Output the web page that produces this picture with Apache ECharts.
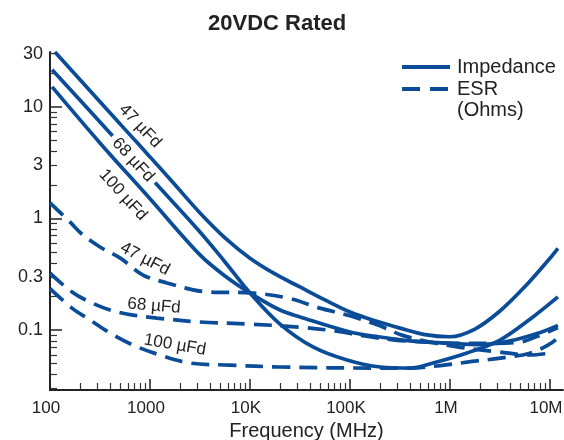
<!DOCTYPE html>
<html>
<head>
<meta charset="utf-8">
<script src="https://cdn.jsdelivr.net/npm/echarts@6/dist/echarts.min.js"></script>
<style>
html,body{margin:0;padding:0;background:#fff;}
#chart{width:564px;height:440px;}
</style>
</head>
<body>
<div id="chart"></div>
<script>
// ---- data (frequency in Hz, values in ohms) ----
var z47Freq = [112, 316, 562, 1000, 1778, 3162, 5623, 10000, 17780, 31620, 56230, 100000, 177800, 316200, 562300, 1000000, 1778000, 3162000, 5623000, 10000000, 12000000];
var z47Val  = [31, 11.1, 6.28, 3.56, 2.0, 1.12, 0.67, 0.44, 0.318, 0.243, 0.186, 0.145, 0.121, 0.104, 0.091, 0.087, 0.102, 0.148, 0.245, 0.44, 0.54];

var z68Freq = [105, 316, 1000, 3162, 5623, 10000, 19950, 42660, 93300, 200000, 398000, 676000, 1479000, 3160000, 6760000, 12000000];
var z68Val  = [21.5, 7.33, 2.35, 0.757, 0.407, 0.215, 0.113, 0.0705, 0.0538, 0.0466, 0.0456, 0.0506, 0.0622, 0.0813, 0.131, 0.198];

var z100Freq = [105, 316, 1000, 3162, 5623, 10000, 19950, 31620, 100000, 200000, 398000, 1000000, 2000000, 4000000, 8000000, 12000000];
var z100Val  = [15.1, 4.75, 1.50, 0.471, 0.305, 0.215, 0.151, 0.131, 0.096, 0.0865, 0.080, 0.076, 0.074, 0.080, 0.095, 0.11];

var esr47Freq = [100, 158, 214, 316, 501, 851, 1479, 2692, 3981, 10000, 23440, 50120, 100000, 199500, 331000, 631000, 1260000, 3160000, 6310000, 10000000];
var esr47Val  = [1.38, 0.93, 0.71, 0.555, 0.443, 0.311, 0.264, 0.229, 0.219, 0.215, 0.194, 0.157, 0.134, 0.109, 0.090, 0.078, 0.070, 0.0635, 0.0597, 0.062];

var esr68Freq = [100, 166, 251, 398, 676, 1175, 3162, 10000, 31620, 70800, 141000, 282000, 600000, 1200000, 2500000, 5000000, 8000000, 12000000];
var esr68Val  = [0.324, 0.219, 0.178, 0.151, 0.136, 0.128, 0.118, 0.113, 0.106, 0.098, 0.0883, 0.0813, 0.078, 0.076, 0.076, 0.078, 0.09, 0.105];

var esr100Freq = [100, 166, 251, 398, 676, 1259, 2512, 6310, 19950, 200000, 398000, 800000, 1600000, 3200000, 6300000, 10000000, 12000000];
var esr100Val  = [0.235, 0.157, 0.123, 0.094, 0.0733, 0.0597, 0.0506, 0.0485, 0.0466, 0.0456, 0.0456, 0.048, 0.052, 0.056, 0.062, 0.075, 0.085];

// ---- axis ticks / labels ----
var xTickValues = [100, 1000, 10000, 100000, 1000000, 10000000];
var xTickLabels = ['100', '1000', '10K', '100K', '1M', '10M'];
var yTickValues = [0.1, 0.3, 1, 3, 10, 30];
var yTickLabels = ['0.1', '0.3', '1', '3', '10', '30'];
var yMajorTicks = [0.1, 1, 10];
var minorMultipliers = [2, 3, 4, 5, 6, 7, 8, 9];

var xMin = 100, xMax = 13500000;
var yMin = 0.029, yMax = 31;

var BLUE = '#0b4c99';
var TEXT = '#222222';
var FONT = '"Liberation Sans", Arial, Helvetica, sans-serif';

function lg(v) { return Math.log10(v); }
function pairs(f, v) { return f.map(function (x, i) { return [x, v[i]]; }); }
function minorTicks(lo, hi) {
  var out = [];
  for (var e = -3; e <= 8; e++) {
    minorMultipliers.forEach(function (m) {
      var val = m * Math.pow(10, e);
      if (val >= lo && val <= hi) out.push(lg(val));
    });
  }
  return out;
}
function labelFor(values, labels) {
  return function (v) {
    for (var i = 0; i < values.length; i++) {
      if (Math.abs(lg(values[i]) - v) < 1e-6) return labels[i];
    }
    return '';
  };
}

var chart = echarts.init(document.getElementById('chart'), null, {renderer: 'canvas'});

function lineSeries(name, f, v, dashed) {
  return {
    name: name,
    type: 'line',
    xAxisIndex: 0,
    yAxisIndex: 0,
    data: pairs(f, v),
    smooth: 0.35,
    symbol: 'none',
    silent: true,
    lineStyle: {color: BLUE, width: 3.7, type: dashed ? [18, 9] : 'solid', cap: 'butt'},
    z: 3
  };
}

var option = {
  animation: false,
  backgroundColor: '#ffffff',
  title: {
    text: '20VDC Rated',
    left: 203,
    top: 8,
    textStyle: {fontFamily: FONT, fontSize: 22, fontWeight: 'bold', color: TEXT}
  },
  grid: {left: 50, right: 1, top: 52, bottom: 50, containLabel: false, outerBoundsMode: 'none'},
  xAxis: [
    {type: 'log', logBase: 10, min: xMin, max: xMax, show: false, position: 'bottom',
     axisLine: {onZero: false}},
    {
      type: 'value', min: lg(xMin), max: lg(xMax), position: 'bottom',
      axisLine: {show: true, onZero: false, lineStyle: {color: TEXT, width: 2}},
      axisTick: {show: true, inside: true, length: 11, lineStyle: {color: TEXT, width: 1.5},
                 customValues: xTickValues.map(lg)},
      axisLabel: {show: true, margin: 10, fontSize: 17, fontFamily: FONT, color: TEXT,
                  padding: [0, 8, 0, 0],
                  customValues: xTickValues.map(lg), formatter: labelFor(xTickValues, xTickLabels)},
      splitLine: {show: false},
      name: 'Frequency (MHz)', nameLocation: 'middle', nameGap: 31,
      nameTextStyle: {fontFamily: FONT, fontSize: 20, color: TEXT}
    },
    {
      type: 'value', min: lg(xMin), max: lg(xMax), position: 'bottom',
      axisLine: {show: false, onZero: false},
      axisTick: {show: true, inside: true, length: 7, lineStyle: {color: '#333', width: 1.2},
                 customValues: minorTicks(xMin, xMax)},
      axisLabel: {show: false},
      splitLine: {show: false}
    }
  ],
  yAxis: [
    {type: 'log', logBase: 10, min: yMin, max: yMax, show: false, position: 'left',
     axisLine: {onZero: false}},
    {
      type: 'value', min: lg(yMin), max: lg(yMax), position: 'left',
      axisLine: {show: true, onZero: false, lineStyle: {color: TEXT, width: 2}},
      axisTick: {show: true, inside: true, length: 12, lineStyle: {color: TEXT, width: 1.5},
                 customValues: yMajorTicks.map(lg)},
      axisLabel: {show: true, margin: 7, fontSize: 18, fontFamily: FONT, color: TEXT,
                  padding: [6, 0, 0, 0],
                  customValues: yTickValues.map(lg), formatter: labelFor(yTickValues, yTickLabels)},
      splitLine: {show: false}
    },
    {
      type: 'value', min: lg(yMin), max: lg(yMax), position: 'left',
      axisLine: {show: false, onZero: false},
      axisTick: {show: true, inside: true, length: 7, lineStyle: {color: '#333', width: 1.2},
                 customValues: minorTicks(yMin, yMax).concat([lg(30)])},
      axisLabel: {show: false},
      splitLine: {show: false}
    }
  ],
  series: [
    lineSeries('Z 47', z47Freq, z47Val, false),
    lineSeries('Z 68', z68Freq, z68Val, false),
    lineSeries('Z 100', z100Freq, z100Val, false),
    lineSeries('ESR 47', esr47Freq, esr47Val, true),
    lineSeries('ESR 68', esr68Freq, esr68Val, true),
    lineSeries('ESR 100', esr100Freq, esr100Val, true)
  ],
  graphic: [
    // legend
    {type: 'line', z: 100, shape: {x1: 402, y1: 67, x2: 450, y2: 67}, style: {stroke: BLUE, lineWidth: 4}},
    {type: 'line', z: 100, shape: {x1: 402, y1: 89, x2: 450, y2: 89}, style: {stroke: BLUE, lineWidth: 4, lineDash: [18, 10]}},
    {type: 'text', z: 100, x: 457, y: 67, style: {text: 'Impedance', fill: TEXT, font: '20px ' + FONT, verticalAlign: 'middle'}},
    {type: 'text', z: 100, x: 457, y: 89, style: {text: 'ESR', fill: TEXT, font: '20px ' + FONT, verticalAlign: 'middle'}},
    {type: 'text', z: 100, x: 457, y: 110, style: {text: '(Ohms)', fill: TEXT, font: '20px ' + FONT, verticalAlign: 'middle'}},
    // impedance curve labels
    {type: 'text', z: 100, x: 140, y: 126, rotation: -0.81,
     style: {text: '47 µFd', fill: TEXT, font: '17px ' + FONT, align: 'center', verticalAlign: 'middle'}},
    {type: 'text', z: 100, x: 133, y: 160, rotation: -0.83,
     style: {text: '68 µFd', fill: TEXT, font: '17px ' + FONT, align: 'center', verticalAlign: 'middle',
             backgroundColor: '#ffffff', padding: [0, 5]}},
    {type: 'text', z: 100, x: 123, y: 195, rotation: -0.83,
     style: {text: '100 µFd', fill: TEXT, font: '17px ' + FONT, align: 'center', verticalAlign: 'middle'}},
    // ESR curve labels
    {type: 'text', z: 100, x: 145, y: 259, rotation: -0.48,
     style: {text: '47 µFd', fill: TEXT, font: '17px ' + FONT, align: 'center', verticalAlign: 'middle'}},
    {type: 'text', z: 100, x: 154, y: 306, rotation: -0.08,
     style: {text: '68 µFd', fill: TEXT, font: '17px ' + FONT, align: 'center', verticalAlign: 'middle'}},
    {type: 'text', z: 100, x: 175, y: 345, rotation: -0.17,
     style: {text: '100 µFd', fill: TEXT, font: '17px ' + FONT, align: 'center', verticalAlign: 'middle'}}
  ]
};
chart.setOption(option);
</script>
</body>
</html>
